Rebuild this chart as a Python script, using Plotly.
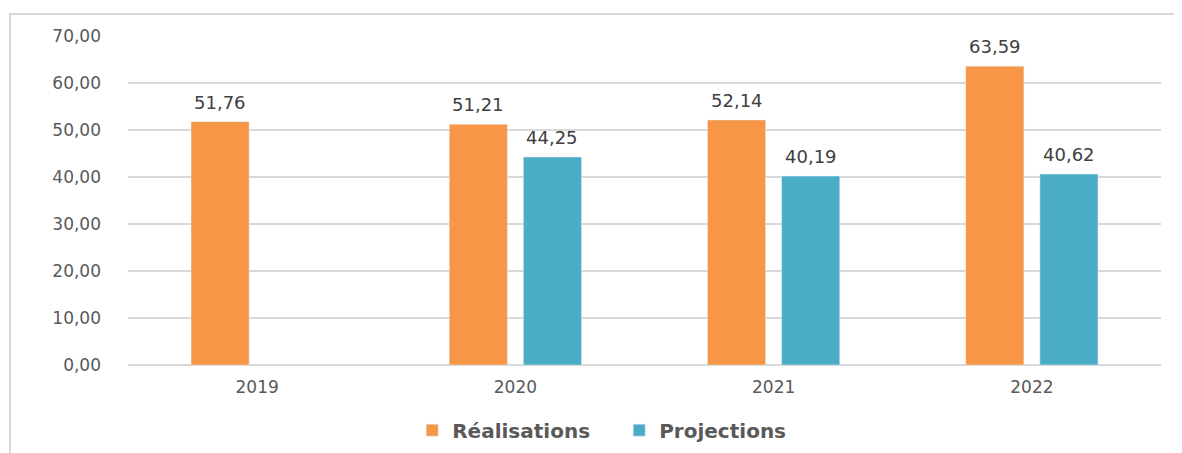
import plotly.graph_objects as go

years = ['2019', '2020', '2021', '2022']
realisations = [51.76, 51.21, 52.14, 63.59]
projections = [None, 44.25, 40.19, 40.62]

label_font = dict(family='DejaVu Sans', size=18, color='#404040')

fig = go.Figure()
fig.add_trace(
    go.Bar(x=years, y=realisations, name='Réalisations',
           marker=dict(color='#F79646'))
)
fig.add_trace(
    go.Bar(x=years, y=projections, name='Projections',
           marker=dict(color='#4BACC6'))
)

# value labels sit a little higher above the bars than plotly's own outside text.
# on a category axis a number-like string would be read as an index, so use the index
for values, shift in [(realisations, -37), (projections, 37)]:
    for i, v in enumerate(values):
        if v is None:
            continue
        fig.add_annotation(x=i, y=v, text=f'{v:.2f}'.replace('.', ','),
                           showarrow=False, xshift=shift, yshift=7,
                           yanchor='bottom', font=label_font)

fig.update_layout(
    width=1174, height=445,  # page body adds 8px on the left and top
    barmode='group', bargap=0.426, bargroupgap=0.216,
    separators=', ',
    plot_bgcolor='white', paper_bgcolor='white',
    font=dict(family='DejaVu Sans', color='#595959'),
    margin=dict(l=120, r=21, t=28, b=88, autoexpand=False),
    xaxis=dict(type='category', showgrid=False, showline=False, ticks='',
               automargin=False,
               tickfont=dict(size=17, color='#595959'),
               ticklabelstandoff=10),
    yaxis=dict(range=[0, 70], dtick=10, tickformat='.2f', automargin=False,
               showgrid=True, gridcolor='#d9d9d9', gridwidth=2,
               zeroline=True, zerolinecolor='#d9d9d9', zerolinewidth=2,
               tickfont=dict(size=17, color='#595959'),
               ticklabelstandoff=26),
    legend=dict(orientation='h', x=0.4755, xanchor='center',
                y=-0.198, yanchor='middle',
                font=dict(size=20, color='#595959', weight='bold'),
                entrywidth=162, itemwidth=30),
    # light frame around the chart, as in the original export
    shapes=[dict(type='rect', xref='paper', yref='paper',
                 x0=-0.1142, x1=1.05, y0=-0.5, y1=1.0669,
                 line=dict(color='#d9d9d9', width=2))],
)

fig.write_html("out.html")
